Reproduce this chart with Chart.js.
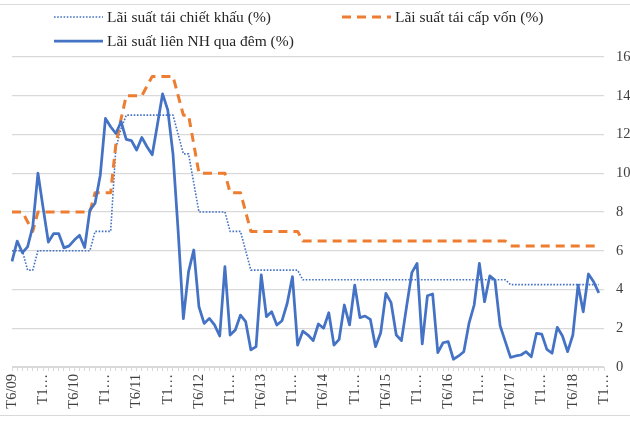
<!DOCTYPE html>
<html>
<head>
<meta charset="utf-8">
<script src="https://cdn.jsdelivr.net/npm/chart.js@4.4.1/dist/chart.umd.min.js"></script>
<style>
  html, body { margin: 0; padding: 0; background: #fff; }
  #wrap { position: relative; width: 630px; height: 423px; overflow: hidden; }
  #frame { position: absolute; left: 0; top: 4px; width: 630px; height: 412px; box-sizing: border-box;
           border-top: 1px solid #d9d9d9; border-bottom: 1px solid #d9d9d9; }
  #rateChart { position: absolute; left: 0; top: 0; }
  #legend { position: absolute; left: 0; top: 0; width: 630px; height: 56px;
            font-family: "Liberation Serif", "Times New Roman", serif; font-size: 15.5px; color: #262626; }
  .item { position: absolute; display: flex; align-items: center; white-space: nowrap; height: 20px; }
  .item svg { margin-right: 4px; }
</style>
</head>
<body>
<div id="wrap">
  <div id="frame"></div>
  <canvas id="rateChart" width="630" height="423"></canvas>
  <div id="legend"></div>
</div>
<script>
// Categories: monthly, T6/09 .. T12/18
const months = [
  'T6/09', 'T7/09', 'T8/09', 'T9/09', 'T10/09', 'T11/09', 'T12/09',
  'T1/10', 'T2/10', 'T3/10', 'T4/10', 'T5/10', 'T6/10', 'T7/10', 'T8/10', 'T9/10', 'T10/10', 'T11/10', 'T12/10',
  'T1/11', 'T2/11', 'T3/11', 'T4/11', 'T5/11', 'T6/11', 'T7/11', 'T8/11', 'T9/11', 'T10/11', 'T11/11', 'T12/11',
  'T1/12', 'T2/12', 'T3/12', 'T4/12', 'T5/12', 'T6/12', 'T7/12', 'T8/12', 'T9/12', 'T10/12', 'T11/12', 'T12/12',
  'T1/13', 'T2/13', 'T3/13', 'T4/13', 'T5/13', 'T6/13', 'T7/13', 'T8/13', 'T9/13', 'T10/13', 'T11/13', 'T12/13',
  'T1/14', 'T2/14', 'T3/14', 'T4/14', 'T5/14', 'T6/14', 'T7/14', 'T8/14', 'T9/14', 'T10/14', 'T11/14', 'T12/14',
  'T1/15', 'T2/15', 'T3/15', 'T4/15', 'T5/15', 'T6/15', 'T7/15', 'T8/15', 'T9/15', 'T10/15', 'T11/15', 'T12/15',
  'T1/16', 'T2/16', 'T3/16', 'T4/16', 'T5/16', 'T6/16', 'T7/16', 'T8/16', 'T9/16', 'T10/16', 'T11/16', 'T12/16',
  'T1/17', 'T2/17', 'T3/17', 'T4/17', 'T5/17', 'T6/17', 'T7/17', 'T8/17', 'T9/17', 'T10/17', 'T11/17', 'T12/17',
  'T1/18', 'T2/18', 'T3/18', 'T4/18', 'T5/18', 'T6/18', 'T7/18', 'T8/18', 'T9/18', 'T10/18', 'T11/18', 'T12/18'
];

// Lãi suất tái chiết khấu (%)
const discountRate = [
  6, 6, 6, 5, 5, 6, 6, 6, 6, 6,
  6, 6, 6, 6, 6, 6, 7, 7, 7, 7,
  11.3, 12.3, 13, 13, 13, 13, 13, 13, 13, 13,
  13, 13, 12, 11, 11, 9.5, 8, 8, 8, 8,
  8, 8, 7, 7, 7, 6, 5, 5, 5, 5,
  5, 5, 5, 5, 5, 5, 4.5, 4.5, 4.5, 4.5,
  4.5, 4.5, 4.5, 4.5, 4.5, 4.5, 4.5, 4.5, 4.5, 4.5,
  4.5, 4.5, 4.5, 4.5, 4.5, 4.5, 4.5, 4.5, 4.5, 4.5,
  4.5, 4.5, 4.5, 4.5, 4.5, 4.5, 4.5, 4.5, 4.5, 4.5,
  4.5, 4.5, 4.5, 4.5, 4.5, 4.5, 4.25, 4.25, 4.25, 4.25,
  4.25, 4.25, 4.25, 4.25, 4.25, 4.25, 4.25, 4.25, 4.25, 4.25,
  4.25, 4.25, 4.25, 4.25
];

// Lãi suất tái cấp vốn (%)
const refinanceRate = [
  8, 8, 8, 7.5, 7, 8, 8, 8, 8, 8,
  8, 8, 8, 8, 8, 8, 9, 9, 9, 9,
  11.5, 12.8, 14, 14, 14, 14, 14.5, 15, 15, 15,
  15, 15, 14, 13, 13, 11.5, 10, 10, 10, 10,
  10, 10, 9, 9, 9, 8, 7, 7, 7, 7,
  7, 7, 7, 7, 7, 7, 6.5, 6.5, 6.5, 6.5,
  6.5, 6.5, 6.5, 6.5, 6.5, 6.5, 6.5, 6.5, 6.5, 6.5,
  6.5, 6.5, 6.5, 6.5, 6.5, 6.5, 6.5, 6.5, 6.5, 6.5,
  6.5, 6.5, 6.5, 6.5, 6.5, 6.5, 6.5, 6.5, 6.5, 6.5,
  6.5, 6.5, 6.5, 6.5, 6.5, 6.5, 6.25, 6.25, 6.25, 6.25,
  6.25, 6.25, 6.25, 6.25, 6.25, 6.25, 6.25, 6.25, 6.25, 6.25,
  6.25, 6.25, 6.25, 6.25
];

// Lãi suất liên NH qua đêm (%)
const interbankRate = [
  5.45, 6.5, 5.9, 6.2, 7.25, 10.0, 8.2, 6.45, 6.88, 6.88,
  6.15, 6.25, 6.55, 6.8, 6.17, 8.1, 8.45, 9.9, 12.83, 12.4,
  12.05, 12.66, 11.75, 11.68, 11.2, 11.85, 11.37, 10.95, 12.5, 14.1,
  13.26, 11.0, 7.0, 2.5, 4.92, 6.04, 3.11, 2.25, 2.51, 2.17,
  1.6, 5.18, 1.65, 1.91, 2.68, 2.34, 0.88, 1.05, 4.75, 2.6,
  2.85, 2.17, 2.39, 3.29, 4.66, 1.13, 1.85, 1.65, 1.36, 2.22,
  2.0, 2.8, 1.13, 1.43, 3.2, 2.17, 4.23, 2.55, 2.63, 2.46,
  1.05, 1.77, 3.8, 3.32, 1.65, 1.36, 3.15, 4.87, 5.35, 1.19,
  3.68, 3.77, 0.74, 1.25, 1.31, 0.4, 0.57, 0.79, 2.25, 3.2,
  5.35, 3.37, 4.7, 4.49, 2.12, 1.31, 0.5, 0.57, 0.62, 0.79,
  0.53, 1.74, 1.7, 0.91, 0.71, 2.05, 1.6, 0.79, 1.65, 4.23,
  2.85, 4.8, 4.4, 3.83
];

const yTicks = [0, 2, 4, 6, 8, 10, 12, 14, 16];

const serif = '"Liberation Serif", "Times New Roman", serif';
const axisFont = { family: serif, size: 14.5 };

const chart = new Chart(document.getElementById('rateChart'), {
    type: 'line',
    data: {
        labels: months,
        datasets: [{
            label: 'Lãi suất tái chiết khấu (%)',
            data: discountRate,
            borderColor: '#4472C4',
            borderWidth: 1.6,
            borderDash: [1.6, 1.6],
            order: 2
        }, {
            label: 'Lãi suất tái cấp vốn (%)',
            data: refinanceRate,
            borderColor: '#ED7D31',
            borderWidth: 3,
            borderDash: [9, 6],
            order: 1
        }, {
            label: 'Lãi suất liên NH qua đêm (%)',
            data: interbankRate,
            borderColor: '#4472C4',
            borderWidth: 2.75,
            order: 0
        }]
    },
    options: {
        responsive: false,
        animation: false,
        devicePixelRatio: 1,
        layout: { padding: { top: 57, left: 12, right: 0, bottom: 0 } },
        elements: {
            point: { radius: 0 },
            line: { tension: 0, fill: false, borderJoinStyle: 'round' }
        },
        plugins: {
            legend: { display: false },
            tooltip: { enabled: false }
        },
        scales: {
            x: {
                offset: false,
                grid: { drawOnChartArea: false, drawTicks: true, tickLength: 4, color: '#d9d9d9' },
                border: { color: '#d9d9d9' },
                ticks: {
                    autoSkip: false,
                    minRotation: 90,
                    maxRotation: 90,
                    padding: 3,
                    color: '#404040',
                    font: axisFont,
                    callback: function(value, index) {
                        if (index % 6 !== 0) return '';
                        const s = this.getLabelForValue(value);
                        // long month labels are cut like in the original
                        return s.length > 5 ? s.slice(0, 2) + '…' : s;
                    }
                },
                afterFit: function(scale) {
                    scale.height = 56;
                    scale.paddingRight = 0;
                }
            },
            y: {
                position: 'right',
                min: yTicks[0],
                max: yTicks[yTicks.length - 1],
                afterBuildTicks: function(scale) { scale.ticks = yTicks.map(v => ({ value: v })); },
                afterFit: function(scale) { scale.width = 26; },
                grid: { color: '#d9d9d9', drawTicks: false, lineWidth: 1.2 },
                border: { display: false },
                ticks: { padding: 12, color: '#404040', font: axisFont }
            }
        }
    }
});

// HTML legend built from the datasets
function renderLegend(chart) {
    const legendEl = document.getElementById('legend');
    const spots = [[54, 7], [342, 7], [54, 31]];
    chart.data.datasets.forEach((ds, i) => {
        const item = document.createElement('div');
        item.className = 'item';
        item.style.left = spots[i][0] + 'px';
        item.style.top = spots[i][1] + 'px';
        const dash = ds.borderDash ? ds.borderDash.join(',') : 'none';
        item.innerHTML = `
            <svg width="49" height="8"><line x1="0" y1="4" x2="49" y2="4" stroke="${ds.borderColor}"
                stroke-width="${ds.borderWidth}" stroke-dasharray="${dash}"/></svg>
            <span>${ds.label}</span>`;
        legendEl.appendChild(item);
    });
}

renderLegend(chart);
</script>
</body>
</html>
